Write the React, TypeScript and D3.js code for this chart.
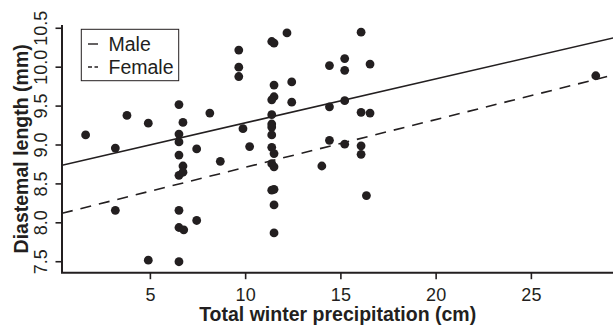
import * as d3 from 'd3';

// Total winter precipitation (cm) and diastemal length (mm)
const precip = [
  1.6, 3.16, 3.77, 4.89, 6.5, 6.71, 6.5, 6.5, 7.43, 6.5,
  8.12, 8.67, 6.71, 9.64, 9.64, 9.64, 9.86, 10.21, 11.37, 11.49,
  12.17, 11.49, 12.42, 11.49, 11.37, 12.42, 11.37, 11.37, 11.37, 11.37,
  11.37, 11.49, 11.37, 11.49, 16.06, 14.4, 15.2, 15.2, 16.53, 14.4,
  15.2, 16.06, 16.53, 14.4, 15.2, 16.06, 16.06, 14.0, 28.38, 16.34,
  6.5, 6.71, 3.16, 6.5, 7.43, 6.5, 6.75, 4.89, 6.5, 11.49,
  11.37, 11.49, 11.49,
];
const diastema = [
  9.13, 8.96, 9.38, 9.28, 9.52, 9.29, 9.14, 9.04, 8.95, 8.87,
  9.41, 8.79, 8.73, 10.22, 10.0, 9.88, 9.21, 8.98, 10.33, 10.31,
  10.44, 9.77, 9.81, 9.62, 9.58, 9.55, 9.39, 9.27, 9.23, 9.13,
  8.97, 8.89, 8.76, 8.72, 10.45, 10.02, 10.11, 9.96, 10.04, 9.49,
  9.57, 9.42, 9.41, 9.06, 9.01, 8.99, 8.88, 8.73, 9.89, 8.35,
  8.61, 8.65, 8.16, 8.16, 8.03, 7.94, 7.91, 7.52, 7.5, 8.43,
  8.42, 8.23, 7.87,
];

// fitted lines: [intercept, slope]
const maleFit = [8.72, 0.0565];
const femaleFit = [8.1, 0.0614];

const xTicks = [5, 10, 15, 20, 25];
const yTicks = [7.5, 8.0, 8.5, 9.0, 9.5, 10.0, 10.5];

const legendLabels = ['Male', 'Female'];

const W = 613;
const H = 329;
const ink = '#231f20';
const font = '"Liberation Sans", Arial, Helvetica, sans-serif';

export default function App() {
  const left = 62;
  const right = 613.3;
  const top = 25;
  const bottom = 272.7;

  const x = d3.scaleLinear().domain([0.36, 29.3]).range([left, right]);
  const y = d3.scaleLinear().domain([7.359, 10.542]).range([bottom, top]);

  const fitLine = (fit: number[]) => {
    const [a, b] = fit;
    const xs = x.domain();
    return d3.line<number>()
      .x(d => x(d))
      .y(d => y(a + b * d))(xs) as string;
  };

  const pts = precip.map((p, i) => ({ p, d: diastema[i] }));

  return (
    <svg
      width={W}
      height={H}
      style={{ position: 'absolute', left: 0, top: 0, background: '#fff' }}
      fontFamily={font}
    >
      <defs>
        <clipPath id="plot">
          <rect x={left} y={top} width={W - left} height={bottom - top} />
        </clipPath>
      </defs>

      {/* regression lines */}
      <g clipPath="url(#plot)" fill="none" stroke={ink} strokeWidth={1.6}>
        <path d={fitLine(maleFit)} />
        <path d={fitLine(femaleFit)} strokeDasharray="11 8" />
      </g>

      {/* points */}
      <g fill={ink}>
        {pts.map((o, i) => (
          <circle key={i} cx={x(o.p)} cy={y(o.d)} r={4.4} />
        ))}
      </g>

      {/* axes (L-shaped box) */}
      <path
        d={`M${left},${top}V${bottom}H${W}`}
        fill="none"
        stroke={ink}
        strokeWidth={2}
      />

      {xTicks.map(t => (
        <g key={t} transform={`translate(${x(t)},${bottom})`}>
          <line y2={6.5} stroke={ink} strokeWidth={1.6} />
          <text y={28} textAnchor="middle" fontSize={18} fill={ink}>{t}</text>
        </g>
      ))}

      {yTicks.map(t => (
        <g key={t} transform={`translate(${left},${y(t)})`}>
          <line x2={-6.5} stroke={ink} strokeWidth={1.6} />
          <text
            transform="translate(-15,0) rotate(-90)"
            textAnchor="middle"
            fontSize={18}
            fill={ink}
          >
            {t.toFixed(1)}
          </text>
        </g>
      ))}

      {/* axis titles */}
      <text
        x={(left + right) / 2}
        y={321}
        textAnchor="middle"
        fontSize={19.5}
        fontWeight="bold"
        fill={ink}
      >
        Total winter precipitation (cm)
      </text>
      <text
        transform={`translate(27.5,${(top + bottom) / 2}) rotate(-90)`}
        textAnchor="middle"
        fontSize={19.5}
        fontWeight="bold"
        fill={ink}
      >
        Diastemal length (mm)
      </text>

      {/* legend */}
      <g>
        <rect x={81.3} y={29.3} width={97.4} height={51.4} fill="#fff" stroke={ink} strokeWidth={1} />
        {legendLabels.map((lab, i) => (
          <g key={lab} transform={`translate(0,${44 + i * 23})`}>
            <line
              x1={88}
              x2={98}
              stroke={ink}
              strokeWidth={1.4}
              strokeDasharray={i === 1 ? '4 2.5' : undefined}
            />
            <text x={108.5} y={6.8} fontSize={19.5} fill={ink}>{lab}</text>
          </g>
        ))}
      </g>
    </svg>
  );
}
